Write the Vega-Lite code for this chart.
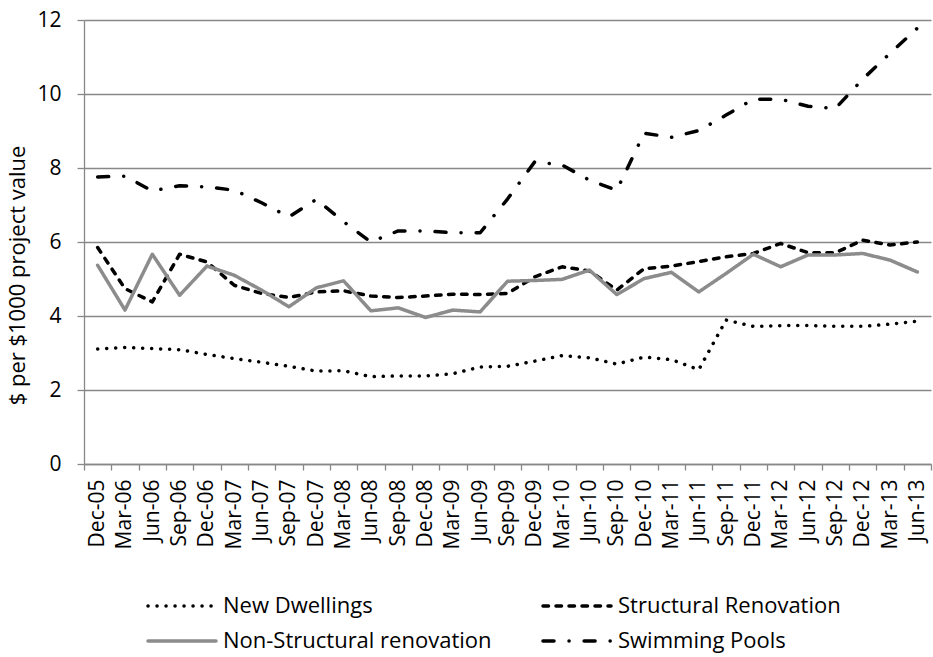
{
  "$schema": "https://vega.github.io/schema/vega-lite/v6.json",
  "width": 847,
  "height": 444,
  "autosize": {"type": "none"},
  "padding": {"left": 84, "top": 20, "right": 2, "bottom": 193},
  "background": "white",
  "config": {"view": {"stroke": null}, "font": "Open Sans"},
  "datasets": {
    "rows": [
      {"quarter": "Dec-05", "series": "New Dwellings", "value": 3.11},
      {"quarter": "Mar-06", "series": "New Dwellings", "value": 3.15},
      {"quarter": "Jun-06", "series": "New Dwellings", "value": 3.12},
      {"quarter": "Sep-06", "series": "New Dwellings", "value": 3.09},
      {"quarter": "Dec-06", "series": "New Dwellings", "value": 2.96},
      {"quarter": "Mar-07", "series": "New Dwellings", "value": 2.85},
      {"quarter": "Jun-07", "series": "New Dwellings", "value": 2.75},
      {"quarter": "Sep-07", "series": "New Dwellings", "value": 2.64},
      {"quarter": "Dec-07", "series": "New Dwellings", "value": 2.51},
      {"quarter": "Mar-08", "series": "New Dwellings", "value": 2.52},
      {"quarter": "Jun-08", "series": "New Dwellings", "value": 2.36},
      {"quarter": "Sep-08", "series": "New Dwellings", "value": 2.38},
      {"quarter": "Dec-08", "series": "New Dwellings", "value": 2.38},
      {"quarter": "Mar-09", "series": "New Dwellings", "value": 2.44},
      {"quarter": "Jun-09", "series": "New Dwellings", "value": 2.62},
      {"quarter": "Sep-09", "series": "New Dwellings", "value": 2.64},
      {"quarter": "Dec-09", "series": "New Dwellings", "value": 2.78},
      {"quarter": "Mar-10", "series": "New Dwellings", "value": 2.93},
      {"quarter": "Jun-10", "series": "New Dwellings", "value": 2.87},
      {"quarter": "Sep-10", "series": "New Dwellings", "value": 2.70},
      {"quarter": "Dec-10", "series": "New Dwellings", "value": 2.89},
      {"quarter": "Mar-11", "series": "New Dwellings", "value": 2.82},
      {"quarter": "Jun-11", "series": "New Dwellings", "value": 2.55},
      {"quarter": "Sep-11", "series": "New Dwellings", "value": 3.89},
      {"quarter": "Dec-11", "series": "New Dwellings", "value": 3.72},
      {"quarter": "Mar-12", "series": "New Dwellings", "value": 3.74},
      {"quarter": "Jun-12", "series": "New Dwellings", "value": 3.74},
      {"quarter": "Sep-12", "series": "New Dwellings", "value": 3.72},
      {"quarter": "Dec-12", "series": "New Dwellings", "value": 3.72},
      {"quarter": "Mar-13", "series": "New Dwellings", "value": 3.78},
      {"quarter": "Jun-13", "series": "New Dwellings", "value": 3.86},
      {"quarter": "Dec-05", "series": "Structural Renovation", "value": 5.85},
      {"quarter": "Mar-06", "series": "Structural Renovation", "value": 4.74},
      {"quarter": "Jun-06", "series": "Structural Renovation", "value": 4.38},
      {"quarter": "Sep-06", "series": "Structural Renovation", "value": 5.67},
      {"quarter": "Dec-06", "series": "Structural Renovation", "value": 5.46},
      {"quarter": "Mar-07", "series": "Structural Renovation", "value": 4.83},
      {"quarter": "Jun-07", "series": "Structural Renovation", "value": 4.61},
      {"quarter": "Sep-07", "series": "Structural Renovation", "value": 4.50},
      {"quarter": "Dec-07", "series": "Structural Renovation", "value": 4.65},
      {"quarter": "Mar-08", "series": "Structural Renovation", "value": 4.68},
      {"quarter": "Jun-08", "series": "Structural Renovation", "value": 4.54},
      {"quarter": "Sep-08", "series": "Structural Renovation", "value": 4.50},
      {"quarter": "Dec-08", "series": "Structural Renovation", "value": 4.54},
      {"quarter": "Mar-09", "series": "Structural Renovation", "value": 4.59},
      {"quarter": "Jun-09", "series": "Structural Renovation", "value": 4.58},
      {"quarter": "Sep-09", "series": "Structural Renovation", "value": 4.61},
      {"quarter": "Dec-09", "series": "Structural Renovation", "value": 5.06},
      {"quarter": "Mar-10", "series": "Structural Renovation", "value": 5.33},
      {"quarter": "Jun-10", "series": "Structural Renovation", "value": 5.22},
      {"quarter": "Sep-10", "series": "Structural Renovation", "value": 4.70},
      {"quarter": "Dec-10", "series": "Structural Renovation", "value": 5.28},
      {"quarter": "Mar-11", "series": "Structural Renovation", "value": 5.35},
      {"quarter": "Jun-11", "series": "Structural Renovation", "value": 5.47},
      {"quarter": "Sep-11", "series": "Structural Renovation", "value": 5.60},
      {"quarter": "Dec-11", "series": "Structural Renovation", "value": 5.69},
      {"quarter": "Mar-12", "series": "Structural Renovation", "value": 5.96},
      {"quarter": "Jun-12", "series": "Structural Renovation", "value": 5.71},
      {"quarter": "Sep-12", "series": "Structural Renovation", "value": 5.71},
      {"quarter": "Dec-12", "series": "Structural Renovation", "value": 6.05},
      {"quarter": "Mar-13", "series": "Structural Renovation", "value": 5.92},
      {"quarter": "Jun-13", "series": "Structural Renovation", "value": 6.00},
      {"quarter": "Dec-05", "series": "Non-Structural renovation", "value": 5.37},
      {"quarter": "Mar-06", "series": "Non-Structural renovation", "value": 4.16},
      {"quarter": "Jun-06", "series": "Non-Structural renovation", "value": 5.67},
      {"quarter": "Sep-06", "series": "Non-Structural renovation", "value": 4.56},
      {"quarter": "Dec-06", "series": "Non-Structural renovation", "value": 5.35},
      {"quarter": "Mar-07", "series": "Non-Structural renovation", "value": 5.10},
      {"quarter": "Jun-07", "series": "Non-Structural renovation", "value": 4.70},
      {"quarter": "Sep-07", "series": "Non-Structural renovation", "value": 4.25},
      {"quarter": "Dec-07", "series": "Non-Structural renovation", "value": 4.76},
      {"quarter": "Mar-08", "series": "Non-Structural renovation", "value": 4.95},
      {"quarter": "Jun-08", "series": "Non-Structural renovation", "value": 4.14},
      {"quarter": "Sep-08", "series": "Non-Structural renovation", "value": 4.22},
      {"quarter": "Dec-08", "series": "Non-Structural renovation", "value": 3.96},
      {"quarter": "Mar-09", "series": "Non-Structural renovation", "value": 4.16},
      {"quarter": "Jun-09", "series": "Non-Structural renovation", "value": 4.11},
      {"quarter": "Sep-09", "series": "Non-Structural renovation", "value": 4.94},
      {"quarter": "Dec-09", "series": "Non-Structural renovation", "value": 4.96},
      {"quarter": "Mar-10", "series": "Non-Structural renovation", "value": 4.99},
      {"quarter": "Jun-10", "series": "Non-Structural renovation", "value": 5.24},
      {"quarter": "Sep-10", "series": "Non-Structural renovation", "value": 4.58},
      {"quarter": "Dec-10", "series": "Non-Structural renovation", "value": 5.01},
      {"quarter": "Mar-11", "series": "Non-Structural renovation", "value": 5.18},
      {"quarter": "Jun-11", "series": "Non-Structural renovation", "value": 4.65},
      {"quarter": "Sep-11", "series": "Non-Structural renovation", "value": 5.15},
      {"quarter": "Dec-11", "series": "Non-Structural renovation", "value": 5.67},
      {"quarter": "Mar-12", "series": "Non-Structural renovation", "value": 5.33},
      {"quarter": "Jun-12", "series": "Non-Structural renovation", "value": 5.65},
      {"quarter": "Sep-12", "series": "Non-Structural renovation", "value": 5.65},
      {"quarter": "Dec-12", "series": "Non-Structural renovation", "value": 5.69},
      {"quarter": "Mar-13", "series": "Non-Structural renovation", "value": 5.51},
      {"quarter": "Jun-13", "series": "Non-Structural renovation", "value": 5.19},
      {"quarter": "Dec-05", "series": "Swimming Pools", "value": 7.76},
      {"quarter": "Mar-06", "series": "Swimming Pools", "value": 7.78},
      {"quarter": "Jun-06", "series": "Swimming Pools", "value": 7.38},
      {"quarter": "Sep-06", "series": "Swimming Pools", "value": 7.52},
      {"quarter": "Dec-06", "series": "Swimming Pools", "value": 7.49},
      {"quarter": "Mar-07", "series": "Swimming Pools", "value": 7.40},
      {"quarter": "Jun-07", "series": "Swimming Pools", "value": 7.06},
      {"quarter": "Sep-07", "series": "Swimming Pools", "value": 6.68},
      {"quarter": "Dec-07", "series": "Swimming Pools", "value": 7.15},
      {"quarter": "Mar-08", "series": "Swimming Pools", "value": 6.55},
      {"quarter": "Jun-08", "series": "Swimming Pools", "value": 6.00},
      {"quarter": "Sep-08", "series": "Swimming Pools", "value": 6.30},
      {"quarter": "Dec-08", "series": "Swimming Pools", "value": 6.30},
      {"quarter": "Mar-09", "series": "Swimming Pools", "value": 6.25},
      {"quarter": "Jun-09", "series": "Swimming Pools", "value": 6.25},
      {"quarter": "Sep-09", "series": "Swimming Pools", "value": 7.16},
      {"quarter": "Dec-09", "series": "Swimming Pools", "value": 8.17},
      {"quarter": "Mar-10", "series": "Swimming Pools", "value": 8.08},
      {"quarter": "Jun-10", "series": "Swimming Pools", "value": 7.67},
      {"quarter": "Sep-10", "series": "Swimming Pools", "value": 7.40},
      {"quarter": "Dec-10", "series": "Swimming Pools", "value": 8.94},
      {"quarter": "Mar-11", "series": "Swimming Pools", "value": 8.83},
      {"quarter": "Jun-11", "series": "Swimming Pools", "value": 9.01},
      {"quarter": "Sep-11", "series": "Swimming Pools", "value": 9.43},
      {"quarter": "Dec-11", "series": "Swimming Pools", "value": 9.86},
      {"quarter": "Mar-12", "series": "Swimming Pools", "value": 9.86},
      {"quarter": "Jun-12", "series": "Swimming Pools", "value": 9.67},
      {"quarter": "Sep-12", "series": "Swimming Pools", "value": 9.61},
      {"quarter": "Dec-12", "series": "Swimming Pools", "value": 10.40},
      {"quarter": "Mar-13", "series": "Swimming Pools", "value": 11.10},
      {"quarter": "Jun-13", "series": "Swimming Pools", "value": 11.78}
    ]
  },
  "data": {"name": "rows"},
  "mark": {"type": "line", "strokeCap": "round", "strokeJoin": "round", "strokeWidth": 3.5},
  "encoding": {
    "x": {
      "field": "quarter",
      "type": "ordinal",
      "sort": null,
      "scale": {"type": "band", "paddingInner": 0, "paddingOuter": 0},
      "axis": {
        "title": null,
        "labelAngle": -90,
        "labelFontSize": 21,
        "labelColor": "black",
        "labelPadding": 9,
        "labelOverlap": false,
        "labelBound": false,
        "domainColor": "#888888",
        "domainWidth": 1.3,
        "tickColor": "#888888",
        "tickWidth": 1.3,
        "tickSize": 6,
        "tickBand": "extent",
        "grid": false
      }
    },
    "y": {
      "field": "value",
      "type": "quantitative",
      "scale": {"domain": [0, 12], "nice": false},
      "axis": {
        "title": "$ per $1000 project value",
        "values": [0, 2, 4, 6, 8, 10, 12],
        "grid": true,
        "gridColor": "#888888",
        "gridWidth": 1.3,
        "domainColor": "#888888",
        "domainWidth": 1.3,
        "tickColor": "#888888",
        "tickWidth": 1.3,
        "tickSize": 7,
        "labelPadding": 16,
        "labelFontSize": 21,
        "labelColor": "black",
        "titleFontSize": 22,
        "titleFontWeight": "normal",
        "titleColor": "black",
        "titleAngle": 270,
        "titleBaseline": "middle",
        "titleX": -67,
        "titleY": 255
      }
    },
    "color": {
      "field": "series",
      "type": "nominal",
      "scale": {
        "domain": ["New Dwellings", "Structural Renovation", "Non-Structural renovation", "Swimming Pools"],
        "range": ["#000000", "#000000", "#8c8c8c", "#000000"]
      },
      "legend": {
        "title": null,
        "orient": "none",
        "direction": "horizontal",
        "legendX": 79,
        "legendY": 567,
        "columns": 2,
        "symbolType": "M-2,0H2",
        "symbolSize": 1156,
        "symbolStrokeWidth": 3.5,
        "labelFontSize": 22,
        "labelColor": "black",
        "labelOffset": 22,
        "labelLimit": 400,
        "columnPadding": 44,
        "rowPadding": 5,
        "encode": {"symbols": {"update": {"strokeCap": {"value": "round"}}}}
      }
    },
    "strokeDash": {
      "field": "series",
      "type": "nominal",
      "scale": {
        "domain": ["New Dwellings", "Structural Renovation", "Non-Structural renovation", "Swimming Pools"],
        "range": [[0.1, 8.9], [5.5, 7.5], [1, 0], [11, 15, 0.1, 15]]
      },
      "legend": {
        "title": null,
        "orient": "none",
        "direction": "horizontal",
        "legendX": 79,
        "legendY": 567,
        "columns": 2,
        "symbolType": "M-2,0H2",
        "symbolSize": 1156,
        "symbolStrokeWidth": 3.5,
        "labelFontSize": 22,
        "labelColor": "black",
        "labelOffset": 22,
        "labelLimit": 400,
        "columnPadding": 44,
        "rowPadding": 5,
        "encode": {"symbols": {"update": {"strokeCap": {"value": "round"}}}}
      }
    }
  }
}
